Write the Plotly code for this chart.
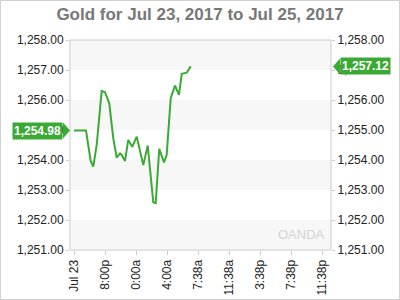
import plotly.graph_objects as go

# hours after the "Jul 23" tick
hours = [0, 1.55, 2.15, 2.49, 2.93, 3.57, 4.0, 4.55, 5.07, 5.51, 5.94, 6.15, 6.58, 7.0,
         7.52, 8.09, 8.94, 9.51, 10.23, 10.54, 11.0, 11.61, 11.96, 12.48, 13.03, 13.55,
         13.9, 14.54, 15.06]
prices = [1254.98, 1254.98, 1253.97, 1253.78, 1254.50, 1256.30, 1256.26, 1255.89, 1254.72,
          1254.08, 1254.22, 1254.17, 1253.97, 1254.67, 1254.44, 1254.78, 1253.83, 1254.48,
          1252.59, 1252.56, 1254.37, 1253.92, 1254.17, 1256.06, 1256.48, 1256.17, 1256.87,
          1256.91, 1257.12]
tick_hours = [0, 4, 8, 12, 16, 20, 24, 28, 32]
tick_text = ["Jul 23", "8:00p", "0:00a", "4:00a", "7:38a", "11:38a", "3:38p", "7:38p", "11:38p"]
y_ticks = [1251, 1252, 1253, 1254, 1255, 1256, 1257, 1258]
y_text = ["1,251.00", "1,252.00", "1,253.00", "1,254.00", "1,255.00", "1,256.00", "1,257.00", "1,258.00"]
title = "Gold for Jul 23, 2017 to Jul 25, 2017"

GREEN = "#3aaa35"
W, H = 400, 300
L, R, T, B = 70, 69, 40, 50
PW, PH = W - L - R, H - T - B
px_per_h = 31 / 4
xr = [-4 / px_per_h, (PW - 4) / px_per_h]

fig = go.Figure()
fig.add_trace(go.Scatter(x=hours, y=prices, mode="lines",
                         line=dict(color=GREEN, width=2), hoverinfo="skip"))
fig.add_trace(go.Scatter(x=hours[:1], y=prices[:1], yaxis="y2", mode="markers",
                         marker=dict(opacity=0), hoverinfo="skip"))

shapes = []
# alternating bands
for lo in range(1251, 1258, 2):
    shapes.append(dict(type="rect", xref="paper", yref="y", x0=0, x1=1, y0=lo, y1=lo + 1,
                       fillcolor="#f7f7f7", line=dict(width=0), layer="below"))
# plot border
shapes.append(dict(type="rect", xref="paper", yref="paper", x0=0, x1=1, y0=0, y1=1,
                   line=dict(color="#cccccc", width=1)))
# outer border
shapes.append(dict(type="rect", xref="paper", yref="paper",
                   x0=(-L + 0.5) / PW, x1=(W - L - 0.5) / PW,
                   y0=-(B - 0.5) / PH, y1=(PH + T - 0.5) / PH,
                   line=dict(color="#d0d0d0", width=1)))
# arrows for the price tags
hh = 8 / 30
v0, v1 = prices[0], prices[-1]
shapes.append(dict(type="path", xref="paper", yref="y",
                   path=f"M {-7/PW},{v0+hh} L {0},{v0} L {-7/PW},{v0-hh} Z",
                   fillcolor=GREEN, line=dict(width=0)))
shapes.append(dict(type="path", xref="paper", yref="y",
                   path=f"M {1+9/PW},{v1+hh} L {1+2/PW},{v1} L {1+9/PW},{v1-hh} Z",
                   fillcolor=GREEN, line=dict(width=0)))

annotations = [
    dict(xref="paper", yref="y", x=-7 / PW, y=v0, xanchor="right", yanchor="middle",
         text=f"<b>{v0:,.2f}</b>", showarrow=False, bgcolor=GREEN, borderpad=1,
         font=dict(color="white", size=12, family="Liberation Sans")),
    dict(xref="paper", yref="y", x=1 + 9 / PW, y=v1, xanchor="left", yanchor="middle",
         text=f"<b>{v1:,.2f}</b>", showarrow=False, bgcolor=GREEN, borderpad=1,
         font=dict(color="white", size=12, family="Liberation Sans")),
    dict(xref="paper", yref="paper", x=0.985, y=0.03, xanchor="right", yanchor="bottom",
         text="OANDA", showarrow=False,
         font=dict(color="#d4d4d4", size=13, family="Liberation Sans")),
]

axis_font = dict(family="Liberation Sans", size=12, color="#222222")
fig.update_layout(
    width=W, height=H, margin=dict(l=L, r=R, t=T, b=B, autoexpand=False),
    paper_bgcolor="white", plot_bgcolor="white", showlegend=False,
    title=dict(text=f"<b>{title}</b>", x=0.5, xanchor="center", y=1 - 14 / H,
               yanchor="middle", font=dict(family="Liberation Sans", size=17, color="#777777")),
    xaxis=dict(range=xr, tickmode="array", tickvals=tick_hours, ticktext=tick_text,
               tickangle=-90, ticks="outside", ticklen=4, tickcolor="#cccccc",
               showgrid=False, zeroline=False, showline=False, tickfont=axis_font,
               automargin=False),
    yaxis=dict(range=[1251, 1258], tickmode="array", tickvals=y_ticks, ticktext=y_text,
               ticks="outside", ticklen=3, tickcolor="#cccccc", showgrid=False,
               zeroline=False, showline=False, tickfont=axis_font, automargin=False),
    yaxis2=dict(range=[1251, 1258], overlaying="y", side="right", tickmode="array",
                tickvals=y_ticks, ticktext=y_text, ticks="outside", ticklen=3,
                tickcolor="#cccccc", showgrid=False, zeroline=False, showline=False,
                tickfont=axis_font, automargin=False),
    shapes=shapes, annotations=annotations,
)
fig.write_html("out.html")
